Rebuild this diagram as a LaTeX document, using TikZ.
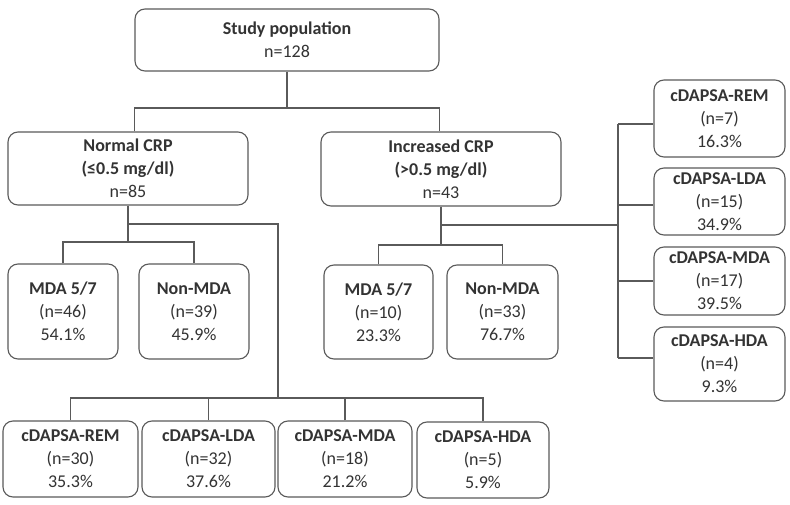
\documentclass[tikz,border=0pt]{standalone}
\usepackage{fontspec}
\setmainfont{Carlito}
\definecolor{linegray}{HTML}{5A5A5A}
\definecolor{txtgray}{HTML}{333333}
\begin{document}
\begin{tikzpicture}[x=1pt,y=-1pt,
  box/.style={draw=linegray, line width=1.1pt, rounded corners=10pt, align=center,
    inner sep=0pt, text=txtgray, font=\fontsize{18}{23}\selectfont},
  conn/.style={draw=linegray, line width=1.1pt}]
\useasboundingbox[fill=white] (0,0) rectangle (790,505);
% level 0
\node[box, minimum width=304, minimum height=62] (sp) at (287,40) {\textbf{Study population}\\n=128};
% level 1
\node[box, minimum width=240, minimum height=73] (ncrp) at (128,168.5) {\textbf{Normal CRP}\\\textbf{(≤0.5 mg/dl)}\\n=85};
\node[box, minimum width=240, minimum height=74] (icrp) at (441,169) {\textbf{Increased CRP}\\\textbf{(>0.5 mg/dl)}\\n=43};
% MDA level
\node[box, minimum width=110, minimum height=95] (mdaa) at (63,311.5) {\textbf{MDA 5/7}\\(n=46)\\54.1\%};
\node[box, minimum width=110, minimum height=95] (nmdaa) at (194,311.5) {\textbf{Non-MDA}\\(n=39)\\45.9\%};
\node[box, minimum width=109, minimum height=94] (mdab) at (378.5,312) {\textbf{MDA 5/7}\\(n=10)\\23.3\%};
\node[box, minimum width=111, minimum height=94] (nmdab) at (502.5,312) {\textbf{Non-MDA}\\(n=33)\\76.7\%};
% bottom cDAPSA (normal CRP)
\node[box, minimum width=135, minimum height=76] (brem) at (70.5,459) {\textbf{cDAPSA-REM}\\(n=30)\\35.3\%};
\node[box, minimum width=133, minimum height=76] (blda) at (208.5,459) {\textbf{cDAPSA-LDA}\\(n=32)\\37.6\%};
\node[box, minimum width=134, minimum height=76] (bmda) at (345,459) {\textbf{cDAPSA-MDA}\\(n=18)\\21.2\%};
\node[box, minimum width=132, minimum height=76] (bhda) at (483,460) {\textbf{cDAPSA-HDA}\\(n=5)\\5.9\%};
% right cDAPSA (increased CRP)
\node[box, minimum width=131, minimum height=77] (rrem) at (719.5,118.5) {\textbf{cDAPSA-REM}\\(n=7)\\16.3\%};
\node[box, minimum width=131, minimum height=67] (rlda) at (719.5,201.5) {\textbf{cDAPSA-LDA}\\(n=15)\\34.9\%};
\node[box, minimum width=131, minimum height=68] (rmda) at (719.5,281) {\textbf{cDAPSA-MDA}\\(n=17)\\39.5\%};
\node[box, minimum width=131, minimum height=74] (rhda) at (719.5,364) {\textbf{cDAPSA-HDA}\\(n=4)\\9.3\%};
% connectors: level 0 -> 1
\coordinate (j0) at (287,108);
\draw[conn] (sp.south) -- (j0);
\draw[conn] (sp.west |- ncrp.north) |- (j0) -| (sp.east |- icrp.north);
% normal CRP -> MDA
\coordinate (j1) at (128,242);
\draw[conn] (ncrp.south) -- (j1);
\draw[conn] (mdaa.north) |- (j1) -| (nmdaa.north);
% normal CRP -> cDAPSA
\coordinate (j2) at (128,224);
\coordinate (j3) at (278,398);
\draw[conn] (j2) -| (j3);
\draw[conn] (brem.north) |- (j3) -| (bhda.north);
\draw[conn] (blda.north) -- (blda.north |- j3);
\draw[conn] (bmda.north) -- (bmda.north |- j3);
% increased CRP -> MDA
\coordinate (k1) at (441,245);
\draw[conn] (icrp.south) -- (k1);
\draw[conn] (mdab.north) |- (k1) -| (nmdab.north);
% increased CRP -> cDAPSA
\coordinate (k2) at (441,225);
\coordinate (s0) at (618,225);
\coordinate (s1) at (618,124);
\coordinate (s2) at (618,205);
\coordinate (s3) at (618,281);
\coordinate (s4) at (618,358);
\draw[conn] (k2) -- (s0);
\draw[conn] (s1) -- (s4);
\draw[conn] (s1) -- (s1 -| rrem.west);
\draw[conn] (s2) -- (s2 -| rlda.west);
\draw[conn] (s3) -- (s3 -| rmda.west);
\draw[conn] (s4) -- (s4 -| rhda.west);
\end{tikzpicture}
\end{document}
